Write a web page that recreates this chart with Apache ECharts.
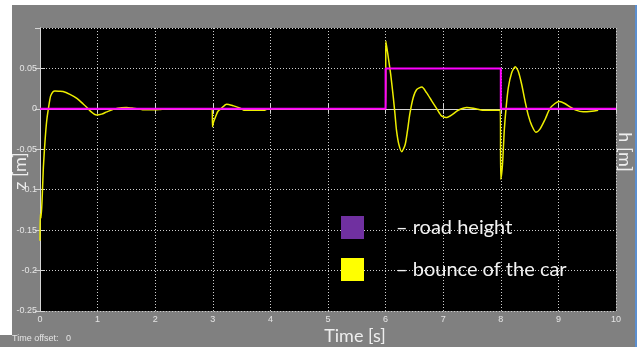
<!DOCTYPE html>
<html>
<head>
<meta charset="utf-8">
<script src="https://cdn.jsdelivr.net/npm/echarts@6/dist/echarts.min.js"></script>
<style>
html,body{margin:0;padding:0;background:#808080;}
#chart{width:640px;height:347px;}
</style>
</head>
<body>
<div id="chart"></div>
<script>
// ---- data ----
const seriesNames = ['road height', 'bounce of the car'];

const roadT = [0, 6, 6, 8, 8, 10];
const roadH = [0, 0, 0.05, 0.05, 0, 0];

const bounceT = [
  0, 0.005, 0.017, 0.04, 0.058, 0.087, 0.116, 0.145, 0.185, 0.23, 0.26, 0.33, 0.40, 0.52, 0.64, 0.75, 0.81, 0.87, 0.98, 1.07, 1.16, 1.3, 1.42, 1.5, 1.6, 1.72, 1.78, 2.0, 2.08, 2.2, 2.99,
  2.995, 3.01, 3.06, 3.09, 3.14, 3.24, 3.36, 3.44, 3.5, 3.54, 3.9, 3.95, 6.0,
  6.005, 6.047, 6.088, 6.134, 6.163, 6.19, 6.23, 6.28, 6.34, 6.38, 6.42, 6.48, 6.54, 6.63, 6.71, 6.8, 6.89, 6.97, 7.05, 7.15, 7.26, 7.41, 7.52, 7.70, 7.99,
  8.0, 8.03, 8.06, 8.09, 8.13, 8.19, 8.25, 8.30, 8.36, 8.42, 8.48, 8.54, 8.61, 8.68, 8.77, 8.85, 8.94, 9.02, 9.11, 9.2, 9.29, 9.43, 9.58, 9.69
];
const bounceZ = [
  -0.163, -0.13, -0.135, -0.106, -0.073, -0.04, -0.015, 0, 0.016, 0.0215, 0.022, 0.0218, 0.0215, 0.018, 0.013, 0.006, 0.002, -0.0025, -0.0075, -0.0065, -0.0037, 0, 0.0015, 0.0017, 0.001, 0, -0.001, -0.0012, -0.0008, 0, 0,
  -0.022, -0.017, -0.0075, -0.003, 0, 0.0058, 0.0037, 0.0017, 0, -0.0016, -0.0016, 0, 0,
  0.084, 0.0635, 0.043, 0.014, -0.0066, -0.027, -0.044, -0.053, -0.044, -0.027, -0.0066, 0.014, 0.024, 0.027, 0.020, 0.0099, 0, -0.0087, -0.0107, -0.0074, -0.0017, 0.0017, 0.0008, -0.0016, -0.0016,
  -0.087, -0.068, -0.027, 0, 0.026, 0.045, 0.052, 0.047, 0.031, 0.0099, -0.0087, -0.021, -0.029, -0.025, -0.0128, 0, 0.0066, 0.009, 0.0066, 0.0025, -0.0012, -0.0037, -0.0029, -0.0016
];

const xMin = 0, xMax = 10, xStep = 1;
const yMin = -0.25, yMax = 0.1, yStep = 0.05;

const axisTitles = { x: 'Time [s]', yLeft: 'z [m]', yRight: 'h [m]' };
const footerText = 'Time offset:   0';

// ---- build ----
const zip = (a, b) => a.map((v, i) => [v, b[i]]);

const frameColor = '#d4d4d4';
const labelColor = '#e4e4e4';
const gridLine = { show: true, lineStyle: { color: '#cfcfcf', type: [1, 2], width: 1 } };
const tick = { show: true, inside: true, length: 5, lineStyle: { color: frameColor, width: 1 } };
const axisLine = { show: true, lineStyle: { color: frameColor, width: 1 } };
const lblFont = { color: labelColor, fontSize: 9, fontFamily: 'Liberation Sans' };

const chart = echarts.init(document.getElementById('chart'), null, { renderer: 'canvas' });
chart.setOption({
  backgroundColor: '#808080',
  animation: false,
  grid: { left: 40, right: 24, top: 28, bottom: 36, containLabel: false, outerBoundsMode: 'none',
          show: true, backgroundColor: '#000000', borderWidth: 0 },
  xAxis: [
    { type: 'value', position: 'bottom', min: xMin, max: xMax, interval: xStep,
      axisLine, axisTick: tick, splitLine: gridLine,
      axisLabel: Object.assign({ margin: 4 }, lblFont) },
    { type: 'value', position: 'top', min: xMin, max: xMax, interval: xStep,
      axisLine, axisTick: tick, splitLine: { show: false }, axisLabel: { show: false } }
  ],
  yAxis: [
    { type: 'value', position: 'left', min: yMin, max: yMax, interval: yStep,
      axisLine, axisTick: tick, splitLine: gridLine,
      axisLabel: Object.assign({ margin: 3, showMaxLabel: false,
        formatter: v => String(Number(v.toFixed(2))) }, lblFont) },
    { type: 'value', position: 'right', min: yMin, max: yMax, interval: yStep,
      axisLine, axisTick: tick, splitLine: { show: false }, axisLabel: { show: false } }
  ],
  legend: {
    orient: 'vertical', left: 341, top: 216, itemWidth: 23, itemHeight: 23, itemGap: 19,
    icon: 'rect', padding: 0,
    data: [
      { name: seriesNames[0], itemStyle: { color: '#7030a0' } },
      { name: seriesNames[1], itemStyle: { color: '#ffff00' } }
    ],
    formatter: n => '\u2013 ' + n,
    textStyle: { color: '#f2f2f2', fontSize: 20, fontFamily: 'Lato', padding: [0, 0, 0, 27] },
    selectedMode: false
  },
  graphic: [
    { type: 'rect', shape: { x: 0, y: 0, width: 640, height: 5 }, style: { fill: '#ffffff' }, silent: true },
    { type: 'rect', shape: { x: 0, y: 0, width: 12, height: 335 }, style: { fill: '#ffffff' }, silent: true },
    { type: 'rect', shape: { x: 635, y: 5, width: 2, height: 342 }, style: { fill: '#5b8fd0' }, silent: true },
    { type: 'rect', shape: { x: 637, y: 0, width: 3, height: 347 }, style: { fill: '#ffffff' }, silent: true },
    { type: 'text', x: 355, y: 336, style: { text: axisTitles.x, fill: '#eeeeee', font: '18px Lato', align: 'center', verticalAlign: 'middle' } },
    { type: 'text', x: 20, y: 171, rotation: Math.PI / 2, style: { text: axisTitles.yLeft, fill: '#eeeeee', font: '18px Lato', align: 'center', verticalAlign: 'middle' } },
    { type: 'text', x: 625, y: 152, rotation: -Math.PI / 2, style: { text: axisTitles.yRight, fill: '#eeeeee', font: '18px Lato', align: 'center', verticalAlign: 'middle' } },
    { type: 'text', x: 12, y: 339, style: { text: footerText, fill: labelColor, font: '9px "Liberation Sans"', align: 'left', verticalAlign: 'middle' } }
  ],
  series: [
    { name: seriesNames[1], type: 'line', data: zip(bounceT, bounceZ), showSymbol: false, smooth: 0.25,
      lineStyle: { color: '#eeee00', width: 1.5 }, itemStyle: { color: '#ffff00' }, z: 2 },
    { name: seriesNames[0], type: 'line', data: zip(roadT, roadH), showSymbol: false,
      lineStyle: { color: '#ff00ff', width: 2 }, itemStyle: { color: '#7030a0' }, z: 3 }
  ]
});
</script>
</body>
</html>
